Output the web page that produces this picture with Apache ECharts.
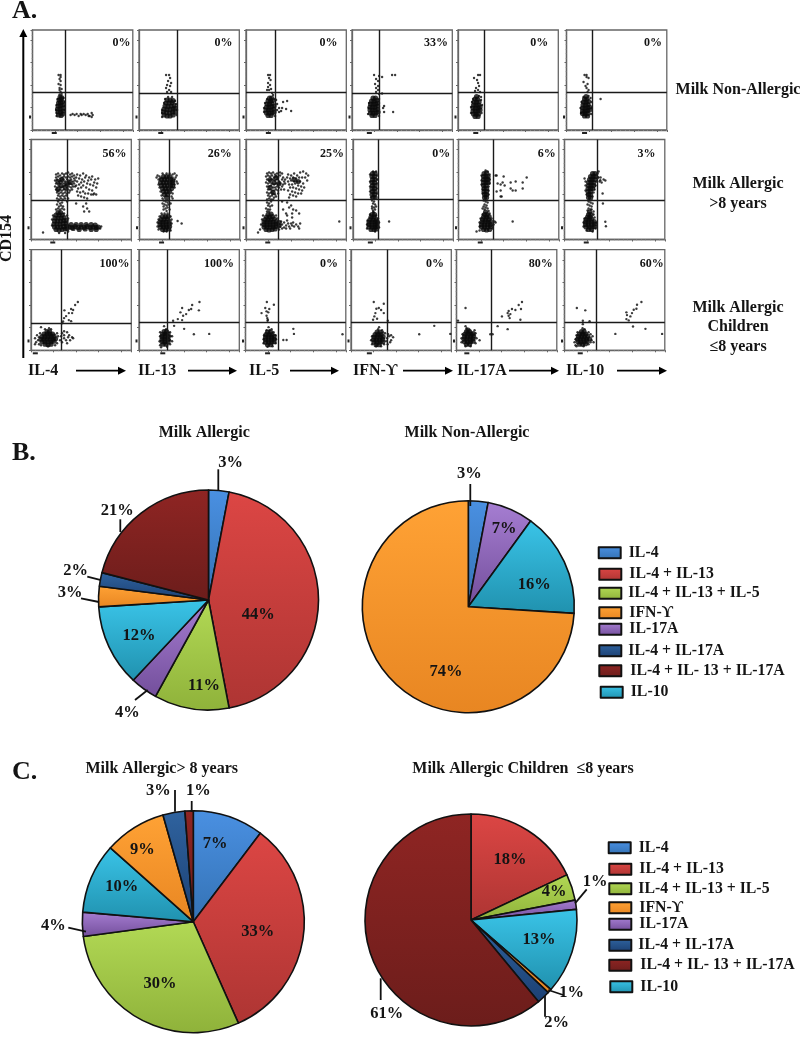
<!DOCTYPE html>
<html><head><meta charset="utf-8">
<script src="https://cdn.jsdelivr.net/npm/echarts@6/dist/echarts.min.js"></script>
<style>html,body{margin:0;padding:0;background:#fff}#c{width:800px;height:1042px}</style>
</head><body><div id="c"></div>
<script>
// ---------- Panel A: flow plots, event coordinates in 0-100 plot units ----------
const cytokines=['IL-4','IL-13','IL-5','IFN-ϒ','IL-17A','IL-10'];
const pctRow1=['0%','0%','0%','33%','0%','0%'];
const pctRow2=['56%','26%','25%','0%','6%','3%'];
const pctRow3=['100%','100%','0%','0%','80%','60%'];
const gateXRow1=[32.7,38,29,27,26.3,26];
const gateXRow2=[36,29.3,32.3,25.3,34.7,32.3];
const gateXRow3=[30.3,28.3,32.7,36.3,34.3,32];
const gateYRow1=[37.7,37,37.7,36.3,37.7,38];
const gateYRow2=[39.3,39.3,39,40.3,39.3,39.3];
const gateYRow3=[27.3,28,28,28,28.3,28.3];

const denseRow1=[
[[26,15],[28.5,14.5],[30,16],[25.5,18],[28,18],[30.5,19],[25,21],[27.5,21],[30,22],[25.5,24],[28,24.5],[30,25],[26,27],[28,27.5],[30,28],[26.5,30],[28.5,30.5],[27.5,33],[29,32.5]],
[[25,15],[28,14],[31,14],[34,15],[24.5,18],[27.5,17.5],[30.5,17],[33.5,18],[36,18],[25,21],[28,20.5],[31,20.5],[34,21],[36,22],[26,24],[29,23.5],[32,24],[35,24.5],[27,27],[30,27],[33,27.5],[28,30],[31,30],[34,29.5]],
[[22,14.5],[25,14.5],[20.5,17],[23,17],[26,17],[28,18],[20,20],[22.5,20],[25,20],[27.5,21],[20.5,23],[23,23],[25.5,23.5],[28,24],[21,26],[23.5,26],[26,26.5],[22,29],[24.5,29],[26.5,29.5],[23.5,32],[25.5,32]],
[[20,14.5],[23,14.5],[18.5,17],[21,17],[24,17],[26,18],[18,20],[20.5,20],[23,20],[25.5,20.5],[18,23],[20.5,23],[23,23],[25.5,24],[18.5,26],[21,26],[23.5,26],[25.5,27],[19.5,29],[22,29],[24.5,29.5],[21,32],[23.5,32]],
[[17,13.5],[20,13.5],[15.5,16],[18,16],[20.5,16],[15,19],[17.5,19],[20,19],[22,20],[15,22],[17.5,22],[20,22],[22,23],[15.5,25],[18,25],[20.5,25],[16,28],[18.5,28],[21,28],[17,31],[19.5,31],[18.5,33.5]],
[[18,14],[21,14],[16,16.5],[18.5,16.5],[21,16.5],[16,19],[18.5,19],[21,19.5],[23,20],[16,22],[18.5,22],[21,22.5],[23,23],[16.5,25],[19,25],[21.5,25.5],[17,28],[19.5,28],[22,28.5],[18,31],[20.5,31],[19.5,33.5]]
];
const sparseRow1=[
[[24,14],[24,17],[23.5,20],[32,20],[32,24],[24,25],[32,28],[31,32],[25,31],[27,35.5],[29,36],[26,55],[28,55],[28,53],[27,51],[28,49],[26,46],[28,45],[27,42],[29,41],[27,40],[28,38],[38,15],[40,16],[42,15],[44,16],[46,14],[48,16],[49,15],[51,16],[53,15],[55,16],[56,14],[59,17],[60,15],[59,13],[57,14]],
[[23,13],[23,17],[23,20],[37.5,15],[38,20],[37,26],[25,27],[36,29],[29,33],[33,33],[26,31],[27,55],[30,55],[31,52],[29,49],[32,47],[28,45],[31,44],[27,42],[30,40],[28,38],[32,38]],
[[22,55],[24,55],[23,52],[24.5,50],[22,47],[24,45],[22,43],[25,41],[23,40],[21,40],[26,37],[30,30],[31,26],[33,22],[36,22],[37,28],[41,29],[35,19],[40,21],[45,19],[33,18],[31,20],[29,14],[18,18],[18,22],[19,27],[29,31],[21,31],[27,35]],
[[22,55],[27,54],[30,53],[40,55],[43,55],[24,51],[26,49],[23,46],[26,44],[24,42],[26,40],[24,38],[27,36],[32,24],[31,22],[32,18],[41,18],[16,16],[16.5,22],[17,27],[27,31],[27,14],[30,36.5]],
[[16,52],[20,55],[22,55],[19,50],[20,47],[21,44],[18,42],[20,40],[17,39],[22,38],[13,17],[13,23],[14,28],[23.5,17],[24,25],[23,30],[15,31],[21,34],[23,33]],
[[18,55],[20,55],[20,53],[22,52],[17,48],[21,46],[19,44],[20,42],[22,40],[21,38],[34,31],[14.5,17],[14,22],[15,28],[24.5,16],[25,22],[25,28],[24,32],[17,33],[22,34]]
];
const denseRow2=[
[[25,10],[28,9.5],[31,10],[34,10.5],[36,11],[23.5,12.5],[26.5,12.5],[29.5,12.5],[32.5,13],[35.5,13.5],[23,15.5],[26,15.5],[29,15.5],[32,16],[35,16],[23.5,18.5],[26.5,18.5],[29.5,18.5],[32.5,19],[35,19],[24,21.5],[27,21.5],[30,21.5],[33,22],[25,24.5],[28,24.5],[31,24.5],[27,27],[29.5,27],[38,12.5],[41,12],[44,13],[47,12],[50,12.5],[53,12],[56,13],[59,12],[62,12.5],[65,12],[67,12.5],[40,15],[45,15],[50,15],[55,15],[60,15],[64,14.5],[42,11],[48,10],[54,10.5],[60,10],[65,10],[36,56],[34,52],[30,54],[27,58],[39,57],[31,60],[27,50]],
[[24,63],[27,63],[30,63],[22,60],[25,60],[28,60],[31,60],[33,59],[21,57],[24,57],[27,57],[30,57],[33,57],[22,54],[25,54],[28,54],[31,54],[33,54],[23,51],[26,51],[29,51],[32,51],[24,48],[27,48],[30,48],[25,45],[28,45],[27,42],[23,10],[26,10],[29,10.5],[21,12.5],[24,12.5],[27,12.5],[30,13],[20.5,15],[23.5,15],[26.5,15],[29.5,15.5],[20.5,17.5],[23.5,17.5],[26.5,17.5],[29.5,18],[21.5,20],[24.5,20],[27.5,20.5],[23,23],[26,23],[28.5,23]],
[[20,10],[23,9.5],[26,10],[29,10.5],[18,12.5],[21,12.5],[24,12.5],[27,12.5],[30,13],[18,15],[21,15],[24,15],[27,15],[30,15.5],[33,14],[18,17.5],[21,17.5],[24,17.5],[27,17.5],[30,18],[33,17],[19,20],[22,20],[25,20],[28,20.5],[20.5,22.5],[23.5,22.5],[26.5,23],[22,25],[25,25.5],[24,60],[28,57],[24,52],[30,62],[33,56],[27,47],[48,60],[52,58]],
[[19.5,66],[22,66],[19,63],[21.5,63],[19.5,60],[22,60],[19,57],[21.5,57],[19.5,54],[22,54],[19,51],[21.5,51],[19.5,48],[22,48],[19,45],[21.5,45],[20,42],[22,42],[18,10],[21,10],[23.5,10.5],[16,12.5],[19,12.5],[22,12.5],[24,13],[16,15],[19,15],[22,15],[24,15.5],[16,17.5],[19,17.5],[22,17.5],[24,18],[17,20],[20,20],[23,20],[18,22.5],[21,22.5],[19,25],[21.5,25]],
[[25.5,66],[28,66.5],[25,63],[27.5,63],[29.5,63],[25,60],[27.5,60],[29.5,60],[25,57],[27.5,57],[29.5,57],[25,54],[27.5,54],[25.5,51],[28,51],[25.5,48],[28,48],[26,45],[28,45],[26,42],[28,42],[25,10],[28,9.5],[31,10],[23,12.5],[26,12.5],[29,12.5],[32,13],[23,15],[26,15],[29,15],[32,15],[23.5,17.5],[26.5,17.5],[29.5,17.5],[32,18],[24,20],[27,20],[30,20],[25,22.5],[28,22.5],[30.5,23],[26,25],[28.5,25],[27,27.5]],
[[28,66],[30.5,66],[26,63],[28.5,63],[31,63],[25,60],[27.5,60],[30,60],[24,57],[26.5,57],[29,57],[24,54],[26.5,54],[29,54],[23.5,51],[26,51],[28,51],[23.5,48],[26,48],[24,45],[26,45],[24,42],[26,41.5],[24,10],[27,10],[21.5,12.5],[24.5,12.5],[27.5,12.5],[30,13],[21,15],[24,15],[27,15],[30,15.5],[21,17.5],[24,17.5],[27,17.5],[29.5,18],[21.5,20],[24.5,20],[27,20.5],[23,22.5],[25.5,22.5],[24,25],[26.5,25],[25,27.5]]
];
const sparseRow2=[
[[25,65],[27,66],[29,64],[31,66],[33,65],[35,66],[37,67],[39,65],[41,66],[43,64],[25,62],[27,63],[29,61],[31,62],[33,63],[35,62],[37,63],[39,62],[41,63],[43,61],[24,59],[26,60],[28,58],[30,59],[32,60],[34,58],[36,60],[38,59],[40,60],[42,58],[44,59],[25,56],[27,55],[29,56],[31,57],[33,56],[35,55],[37,56],[39,56],[41,55],[43,56],[24,53],[26,52],[28,53],[30,52],[32,53],[34,54],[36,52],[38,53],[40,52],[42,53],[44,53],[25,50],[27,49],[29,50],[31,49],[33,50],[35,49],[37,50],[39,49],[41,50],[26,47],[28,46],[30,47],[32,46],[34,47],[36,46],[38,47],[27,44],[29,43],[31,44],[33,43],[35,44],[37,41],[26,41],[28,40],[30,41],[32,40],[34,41],[46,65],[49,64],[52,66],[55,64],[58,62],[61,63],[64,60],[67,61],[45,62],[48,61],[51,60],[54,62],[57,59],[60,60],[63,57],[66,56],[46,58],[48,55],[50,57],[53,58],[56,56],[59,55],[62,54],[65,52],[45,54],[47,51],[50,52],[52,54],[55,52],[58,50],[61,49],[46,48],[49,47],[52,48],[54,46],[57,46],[60,45],[63,46],[47,44],[50,43],[53,42],[56,41],[62,45],[65,45],[27,38],[29,36],[31,37],[26,35],[28,33],[30,34],[32,33],[27,31],[29,30],[31,31],[33,30],[25,30],[36,38],[45,36],[55,36],[52,33],[56,31],[53,28],[58,28],[12,7],[21,14],[21,20],[22,24],[37,21],[36,24],[33,26],[70,13],[69,11],[34,6.5],[28,6.5],[37,8]],
[[18,64],[20,63],[17,62],[19,60],[33,65],[35,66],[37,64],[36,62],[35,60],[37,58],[38,56],[35,52],[19,55],[20,52],[21,48],[22,44],[33,46],[32,43],[21,61],[23,66],[27,66],[30,66],[33,62],[35,55],[23,41],[33,41],[24,39],[26,38],[28,37],[25,35],[27,34],[29,35],[24,33],[26,31],[28,32],[30,30],[24,30],[27,28.5],[29,39],[23,36],[31,36],[18,13],[18,17],[19,20],[32,16],[32,20],[31,23],[20,23],[22,26],[25,26],[28,26],[24,8],[27,8],[42,16],[38,18.5],[31,9],[19,10]],
[[34,13],[36,15],[35,18],[38,12],[40,14],[38,17],[41,19],[43,13],[45,16],[44,11],[42,16],[48,13],[47,17],[50,15],[52,13],[54,16],[53,11],[36,11],[33,10],[40,11],[46,14],[93,18],[12,7],[14,10],[15,15],[16,20],[31,21],[30,24],[17,24],[21,66],[23,67],[25,66],[27,67],[29,65],[31,66],[34,67],[36,66],[20,63],[22,64],[24,63],[26,64],[28,62],[30,63],[32,62],[34,64],[37,62],[39,60],[21,60],[23,59],[25,60],[27,60],[29,59],[31,60],[33,58],[36,60],[38,58],[20,57],[22,56],[24,57],[26,56],[28,55],[30,56],[32,55],[34,56],[37,55],[39,56],[21,53],[23,53],[25,54],[27,52],[29,52],[31,53],[33,52],[36,53],[22,50],[24,50],[26,49],[28,49],[30,50],[32,49],[35,50],[38,50],[21,47],[23,46],[25,47],[27,46],[29,45],[32,46],[22,44],[24,43],[26,44],[28,42],[30,43],[23,41],[25,40],[27,40],[21,40],[42,65],[45,64],[48,66],[51,64],[54,67],[57,68],[60,66],[62,64],[41,62],[44,61],[47,62],[50,61],[53,62],[56,62],[59,62],[61,59],[42,58],[45,59],[48,58],[51,58],[54,58],[57,56],[43,55],[46,55],[49,56],[52,54],[55,53],[58,52],[44,52],[47,52],[50,51],[53,50],[56,49],[42,49],[46,48],[49,47],[52,46],[55,46],[44,45],[47,44],[50,43],[43,42],[21,37],[23,36],[25,38],[22,34],[24,33],[26,34],[20,31],[22,30],[24,30],[21,28],[23,28],[36,38],[41,37],[45,34],[47,30],[43,32],[50,29],[53,26],[46,26],[37,30],[40,26],[41,24],[46,22]],
[[17,65],[24,64],[24,60],[17,58],[24,56],[17,53],[24,51],[17,48],[24,46],[18,42],[20,68],[23,68],[19,39],[21,38],[20,36],[22,35],[19,33],[21,32],[22,30],[20,29],[21,27],[19,31],[23,33],[14,11],[14,15],[14.5,19],[26,12],[26,17],[25,21],[23,24],[17,25],[36,18],[20,27.5],[22,8]],
[[23,64],[31,65],[23,59],[31,60],[23,55],[31,56],[30,53],[24,50],[30,49],[24,46],[30,45],[29,68],[27,69],[25,39],[27,38],[29,37],[26,35],[28,34],[25,33],[27,32],[29,31],[26,30],[24,31],[21,9],[21,13],[21,17],[22,21],[34,11],[35,15],[36,18],[37,17],[33,21],[24,25],[31,26],[30,28.5],[18,8],[54,18],[37,64],[38,64],[45,63],[57,58],[52,57],[68,62],[64,57],[64,51],[54,49],[57,49],[52,51],[44,57],[42,55],[39,56],[38,48],[42,49],[46,54],[42,43],[43,43]],
[[20,61],[21,58],[21,54],[33,66],[34,68],[33,62],[32,58],[31,54],[21,49],[29,47],[30,50],[22,45],[28,43],[24,38],[26,37],[23,35],[25,34],[27,33],[24,31],[26,30],[23,29],[28,36],[19,13],[19,17],[20,21],[31,11],[32,17],[30,22],[29,25],[22,9],[28,8],[27,30],[29,28],[35.7,59.3],[40.7,59],[38,46],[38.3,36],[40.7,17.7],[41.3,13.3],[34,62],[36,62],[37,57],[39,60],[35,58]]
];
const denseRow3=[
[[14,6],[17,5.5],[20,6],[11,8.5],[14,8.5],[17,8.5],[20,8.5],[23,9],[10,11],[13,11],[16,11],[19,11],[22,11],[24.5,11.5],[11,13.5],[14,13.5],[17,13.5],[20,13.5],[23,14],[13,16],[16,16],[19,16],[21.5,16],[16,18.5],[18.5,18.5]],
[[24,6],[27,6],[23,8.5],[26,8.5],[29,8.5],[23,11],[26,11],[29,11],[23,13.5],[26,13.5],[29,13.5],[23.5,16],[26.5,16],[29,16],[25,18.5],[27.5,18.5]],
[[22,5.5],[25,5.5],[20,8],[23,8],[26,8],[28.5,8.5],[20,10.5],[23,10.5],[26,10.5],[28.5,11],[20,13],[23,13],[26,13],[28.5,13.5],[20.5,15.5],[23.5,15.5],[26.5,15.5],[22,18],[25,18]],
[[25,5.5],[28,5.5],[23,8],[26,8],[29,8],[31.5,8.5],[22.5,10.5],[25.5,10.5],[28.5,10.5],[31.5,11],[23,13],[26,13],[29,13],[32,13.5],[24,15.5],[27,15.5],[30,15.5],[26,18],[29,18]],
[[10,6],[13,6],[8,8.5],[11,8.5],[14,8.5],[16.5,9],[7.5,11],[10.5,11],[13.5,11],[16.5,11.5],[8,13.5],[11,13.5],[14,13.5],[17,14],[8.5,16],[11.5,16],[14.5,16],[16.5,16.5],[10,18.5],[13,18.5],[11.5,20]],
[[15,6],[18,6],[21,6.5],[13.5,8.5],[16.5,8.5],[19.5,8.5],[22.5,9],[13,11],[16,11],[19,11],[22,11],[25,11.5],[14,13.5],[17,13.5],[20,13.5],[23,14],[15,16],[18,16],[21,16],[17,18.5],[19.5,18.5]]
];
const sparseRow3=[
[[4,12],[5,8],[6,15],[7,10],[8,13],[8,6],[9,17],[26,7],[27,14],[26,17],[10,5],[24,5],[20,21],[14,21],[18,22],[4,6],[10,23],[17,4],[32,28.7],[46.7,48],[33,32],[37.7,30],[40,29],[33.3,39.7],[37.7,37],[40,41],[42,40],[44,45],[41,37],[35,34],[31,27],[31,8],[33,12],[35,10],[37,13],[39,10],[41,13],[36,7],[33,15],[30,14],[38,15],[42,12],[29,10],[31,17],[33,19],[36,18]],
[[21,5],[20.5,9],[21,14],[21,18],[31,6],[31,10],[31.5,14],[31,18],[27,21],[25,24],[33,9],[33,14],[22,3],[28,3.5],[34,29.3],[35,24.3],[45,21.3],[54.7,16],[70,16.3],[38.7,31],[43,30],[44,34.3],[47,36],[49.7,40],[52,41],[43,42],[41.3,37.7],[53,45],[60.3,48],[59.7,39.7]],
[[18,7],[18,11],[18.5,15],[30,7],[30.5,11],[30,15],[28,18],[21,20],[26,21],[22,3.5],[27,4],[23,23],[24,20],[21.3,48],[28.3,45.3],[16,37],[21,38.7],[23.7,41],[22.7,37.7],[21,34.3],[21.7,32],[22,29.3],[19.7,42],[22.3,30.3],[37.7,10.3],[41,10.3],[47.7,21.3],[48.3,16.3],[96.7,16]],
[[21,6],[20,10],[21,14],[33,6],[35,9],[36,12],[38,14],[40,15],[37,16],[34,17],[32,18],[31,20],[27,21],[28,23],[25,4],[30,4],[40,10],[42,13],[39,8],[36.5,6],[22.7,48],[32.7,46.3],[25.3,41.3],[27.7,42],[30,40],[24.3,37],[22,30.3],[26,31.3],[32.7,37],[23.3,33.7],[36.7,29.3],[68,16],[83,24.3],[99,16.3]],
[[5,8],[5,12],[6,16],[19,7],[20,12],[19,17],[18,20],[9,4],[14,4],[23,10],[10,22],[9,24],[9,42],[1.5,29.5],[45.3,33.7],[51,37],[52,39],[55.3,41],[58.7,40],[62,45],[65.3,48],[53,32],[52,34.3],[53.7,36],[64.3,41],[41,24],[51,21],[33.7,16],[36,16],[63.7,30.3]],
[[11,5],[10,8],[11,11],[12,15],[13,18],[24,6],[26,8],[27,10],[28,14],[29,8],[26,16],[24,18],[20,21],[18,22],[12,4],[19,4],[12.3,42],[20.7,39.7],[18.3,29.3],[18.3,26],[25,29],[61.7,31],[64,29.7],[62.3,35],[65.7,33.7],[69,40.3],[71.7,41.3],[67.3,37],[72.3,45.3],[76.7,48],[61.7,37.7],[50.7,16.3],[68.3,23.7],[80.7,21.3],[97.3,16.3]]
];

// ---------- Panels B and C: pies ----------
const pieNames=['IL-4','IL-4 + IL-13','IL-4 + IL-13 + IL-5','IFN-ϒ','IL-17A','IL-4 + IL-17A','IL-4 + IL- 13 + IL-17A','IL-10'];
const allergicNames=['IL-4','IL-4 + IL-13','IL-4 + IL-13 + IL-5','IL-17A','IL-10','IFN-ϒ','IL-4 + IL-17A','IL-4 + IL- 13 + IL-17A'];
const allergicValues=[3,44,11,4,12,3,2,21];
const allergicLabels=['3%','44%','11%','4%','12%','3%','2%','21%'];
const nonAllergicNames=['IL-4','IL-17A','IL-10','IFN-ϒ'];
const nonAllergicValues=[3,7,16,74];
const nonAllergicLabels=['3%','7%','16%','74%'];
const olderNames=allergicNames;
const olderValues=[10.3,33,29.5,3.5,10.2,9,3.2,1.2]; // slice sizes as drawn
const olderLabels=['7%','33%','30%','4%','10%','9%','3%','1%']; // as printed
const youngNames=['IL-4 + IL-13','IL-4 + IL-13 + IL-5','IL-17A','IL-10','IFN-ϒ','IL-4 + IL-17A','IL-4 + IL- 13 + IL-17A'];
const youngValues=[18,4,1.4,13,0.6,2,61];
const youngLabels=['18%','4%','1%','13%','1%','2%','61%'];

// ---------- layout & style (not data) ----------
const SERIF='"Liberation Serif","Times New Roman",serif';
const INK='#141414';
const plotLeft=[[32.5,139,246,352,458,566.5],[31,139.5,246,353,458.5,564.5],[31,139,245.5,351,456.5,564.5]];
const plotTop=[30,139.5,249.7];
const plotBottom=[130,239.5,350.3];
const pctX=[[88.7,84.3,82.3,83.7,81,86.3],[83.3,80,85.7,88,88,81.7],[83.3,79.7,83.3,83.7,84,87]];
const pctY=[86.7,86,86.3];
const clumpX=[[21.7,21.7,22.3,17.3,17.7,18],[21.7,22,21.7,17.3,21.7,21.7],[4.3,23.7,22,18.3,10.3,15.7]];
const clumpY=[13,11.7,9.3];
const gradient={
 'IL-4':['#4a90e2','#3472b4'],
 'IL-4 + IL-13':['#dc4644','#ae3533'],
 'IL-4 + IL-13 + IL-5':['#b2d955','#8fb23a'],
 'IFN-ϒ':['#ffa235','#e88622'],
 'IL-17A':['#a67ed2','#734e9b'],
 'IL-4 + IL-17A':['#2f639f','#1c4073'],
 'IL-4 + IL- 13 + IL-17A':['#8f2523','#6c1d1b'],
 'IL-10':['#3ac4e8','#2091ae']
};
function slices(names,values){
 return names.map((n,i)=>({name:n,value:values[i],itemStyle:{color:{type:'linear',x:0,y:0,x2:0,y2:1,colorStops:[{offset:0,color:gradient[n][0]},{offset:1,color:gradient[n][1]}]}}}));
}
const labelSpotsA=[[230.7,462.7],[258.3,615],[204,686],[127.3,712.7],[139,635.7],[70,592.7],[75.7,571],[117.3,511]];
const labelSpotsB=[[469.3,473.3],[504,528.3],[534.3,584.3],[446,671.7]];
const labelSpotsC=[[215,844],[257.7,931.7],[160,983.3],[53.3,925.7],[121.7,886.7],[142.3,849.3],[158.3,791],[198.3,791]];
const labelSpotsD=[[510,859.3],[554,891.7],[595,881.7],[539,939.3],[571.7,992.3],[556.7,1022.7],[386.7,1013.3]];
function pie(center,r,names,values,labels,spots){
 return {type:'pie',center,radius:r,startAngle:90,clockwise:true,silent:true,avoidLabelOverlap:false,
  data:slices(names,values),
  itemStyle:{borderColor:'#111',borderWidth:1.6},
  label:{show:true,position:'outside',formatter:p=>labels[p.dataIndex],fontFamily:SERIF,fontWeight:'bold',fontSize:16.5,color:INK},
  labelLine:{show:false},
  labelLayout:p=>({x:spots[p.dataIndex][0],y:spots[p.dataIndex][1],align:'center',verticalAlign:'middle'})
 };
}
const legendYB=[552.7,574.3,593.3,612.7,629.3,650.7,670.7,692.3];
const legendXB=[597.7,598.3,598.3,598.3,598.3,598.3,598.3,599.7];
const legendPadB=[3,3,2,3,3,2,4,3];
const legendYC=[847.7,869.3,888.7,907.7,924.3,945.3,965.3,986.7];
const legendXC=[607.7,608.3,608.3,608.3,608.3,608.3,608.3,609.3];
const legendPadC=[3,3,2,3,3,2,4,3];
function legends(xs,ys,pads){
 return pieNames.map((n,i)=>({data:[n],left:xs[i],top:ys[i]-8,icon:'rect',itemWidth:22,itemHeight:11,padding:0,selectedMode:false,
   textStyle:{fontFamily:SERIF,fontWeight:'bold',fontSize:15.8,color:INK,padding:[0,0,0,pads[i]]}}));
}
const pieTitles=[['Milk Allergic',204.3,432.7],['Milk Non-Allergic',467,432.7],['Milk Allergic> 8 years',161.7,769],['Milk Allergic Children  ≤8 years',523,769]];
const leaderLines=[
 [218.3,469.3,218.3,490.7],[135,700,147.7,690],[81,598.3,99,602],[87.3,576.7,101,580],[120.3,519.3,120.3,532],
 [470.3,484,470.3,506],
 [175,790,175,811.7],[191.7,801,191.7,811.7],[68.3,927.7,86,931.7],
 [575,903.3,586.7,889.3],[548.3,990,563.3,995],[545,996,545,1016.7],[380.7,978.3,380.7,1000]
];
const freeText=[
 ['A.',12,11.5,26,'left'],['B.',12,453.5,26,'left'],['C.',12,772,26,'left'],
 ['Milk Non-Allergic',738,90,16,'center'],['Milk Allergic',738,184,16,'center'],['>8 years',738,204,16,'center'],
 ['Milk Allergic',738,307.7,16,'center'],['Children',738,326.7,16,'center'],['≤8 years',738,346.7,16,'center']
];
const axisNameX=[28,138,249,353,457,566];
const arrowSpans=[[76,126],[188,237],[290,339],[403,453],[509,559],[617,667]];

// ---------- build ----------
const grid=[],xAxis=[],yAxis=[],series=[];
const rowsDense=[denseRow1,denseRow2,denseRow3],rowsSparse=[sparseRow1,sparseRow2,sparseRow3];
const rowsPct=[pctRow1,pctRow2,pctRow3],rowsGX=[gateXRow1,gateXRow2,gateXRow3],rowsGY=[gateYRow1,gateYRow2,gateYRow3];
let g=0;
for(let r=0;r<3;r++)for(let c=0;c<6;c++){
 grid.push({left:plotLeft[r][c],top:plotTop[r],width:100.3,height:plotBottom[r]-plotTop[r],show:true,borderColor:'#666',borderWidth:1.3,backgroundColor:'#fff'});
 const ax={type:'value',min:0,max:100,interval:22.5,gridIndex:g,axisLabel:{show:false},splitLine:{show:false},
  axisLine:{show:true,onZero:false,lineStyle:{color:'#666',width:1.3}},
  axisTick:{show:true,length:2,inside:false,lineStyle:{color:'#666',width:1}},
  minorTick:{show:true,splitNumber:5,length:1,lineStyle:{color:'#999',width:.6}}};
 xAxis.push(Object.assign({},ax));yAxis.push(Object.assign({},ax));
 series.push({type:'scatter',xAxisIndex:g,yAxisIndex:g,silent:true,symbol:'circle',symbolSize:2.4,itemStyle:{color:'#0a0a0a'},data:rowsSparse[r][c],z:2});
 series.push({type:'scatter',xAxisIndex:g,yAxisIndex:g,silent:true,symbol:'circle',symbolSize:5.2,itemStyle:{color:'#0a0a0a'},data:rowsDense[r][c],z:2,
  markLine:{silent:true,symbol:'none',animation:false,label:{show:false},lineStyle:{color:'#1a1a1a',width:1.4,type:'solid'},data:[{xAxis:rowsGX[r][c]},{yAxis:rowsGY[r][c]}]},
  markPoint:{silent:true,animation:false,data:[
   {coord:[pctX[r][c],pctY[r]],symbol:'circle',symbolSize:1,itemStyle:{color:'rgba(0,0,0,0)'},
    label:{show:true,position:'inside',formatter:rowsPct[r][c],fontFamily:SERIF,fontWeight:'bold',fontSize:12,color:INK}},
   {coord:[clumpX[r][c],0],symbol:'rect',symbolSize:[5,2],symbolOffset:[0,3],itemStyle:{color:'#222'},label:{show:false}},
   {coord:[0,clumpY[r]],symbol:'rect',symbolSize:[2,3],symbolOffset:[-2.5,0],itemStyle:{color:'#222'},label:{show:false}}
  ]}});
 g++;
}
series.push(pie([208.5,600],110,allergicNames,allergicValues,allergicLabels,labelSpotsA));
series.push(pie([468.3,606.7],106,nonAllergicNames,nonAllergicValues,nonAllergicLabels,labelSpotsB));
series.push(pie([193.3,921.7],111,olderNames,olderValues,olderLabels,labelSpotsC));
series.push(pie([471,920],106,youngNames,youngValues,youngLabels,labelSpotsD));

const graphic=[];
leaderLines.forEach(l=>graphic.push({type:'line',shape:{x1:l[0],y1:l[1],x2:l[2],y2:l[3]},style:{stroke:'#111',lineWidth:1.8},z:5}));
freeText.forEach(t=>graphic.push({type:'text',style:{text:t[0],x:t[1],y:t[2],font:'bold '+t[3]+'px '+SERIF,fill:INK,textAlign:t[4],textVerticalAlign:'middle'}}));
graphic.push({type:'text',x:7,y:238.5,rotation:Math.PI/2,style:{text:'CD154',x:0,y:0,font:'bold 16px '+SERIF,fill:INK,textAlign:'center',textVerticalAlign:'middle'}});
cytokines.forEach((t,i)=>graphic.push({type:'text',style:{text:t,x:axisNameX[i],y:370.7,font:'bold 16px '+SERIF,fill:INK,textAlign:'left',textVerticalAlign:'middle'}}));
arrowSpans.forEach(s=>{
 graphic.push({type:'line',shape:{x1:s[0],y1:370.7,x2:s[1]-5,y2:370.7},style:{stroke:'#000',lineWidth:1.8}});
 graphic.push({type:'polygon',shape:{points:[[s[1]-8,366.7],[s[1],370.7],[s[1]-8,374.7]]},style:{fill:'#000'}});
});
graphic.push({type:'line',shape:{x1:23.3,y1:34,x2:23.3,y2:358},style:{stroke:'#000',lineWidth:2}});
graphic.push({type:'polygon',shape:{points:[[19.3,37],[23.3,29],[27.3,37]]},style:{fill:'#000'}});

const chart=echarts.init(document.getElementById('c'),null,{renderer:'canvas',width:800,height:1042});
chart.setOption({
 animation:false,backgroundColor:'#fff',
 title:pieTitles.map(t=>({text:t[0],left:t[1],top:t[2]-8,textAlign:'center',padding:0,textStyle:{fontFamily:SERIF,fontWeight:'bold',fontSize:16,color:INK}})),
 legend:legends(legendXB,legendYB,legendPadB).concat(legends(legendXC,legendYC,legendPadC)),
 grid,xAxis,yAxis,series,graphic
});
</script></body></html>
